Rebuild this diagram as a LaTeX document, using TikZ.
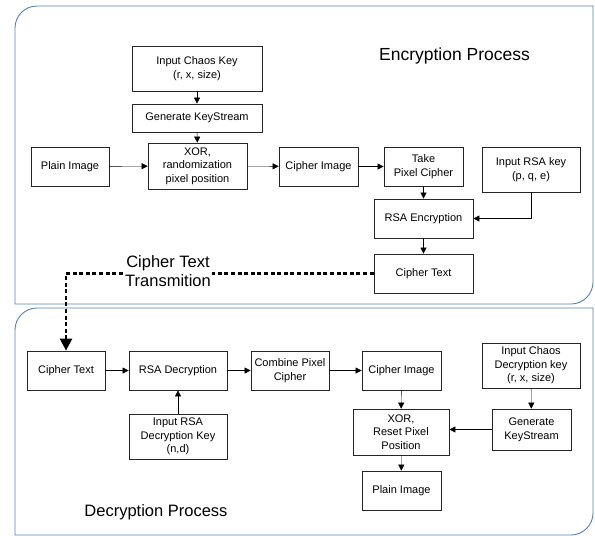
\documentclass[tikz,border=0pt]{standalone}
\usepackage{fontspec}
\setmainfont{Liberation Sans}
\usetikzlibrary{arrows.meta}
\definecolor{panelblue}{RGB}{84,130,183}
\begin{document}
\begin{tikzpicture}[x=1pt,y=-1pt,>={Triangle[length=6pt,width=6pt]},
	box/.style={draw=black!85,line width=0.7pt,minimum width=79pt,minimum height=39pt,inner sep=0pt,align=center,font=\fontsize{11}{13.6}\selectfont},
	panel/.style={draw=panelblue,line width=0.9pt},
	title/.style={font=\fontsize{16.5}{19}\selectfont,align=center}]
	\useasboundingbox (0,0) rectangle (595,536);
	% panels
	\draw[panel] (15,304)--(15,150)[rounded corners=22pt]--(15,6)--(300,6)[sharp corners]--(593,6)--(593,150)[rounded corners=22pt]--(593,304)--(300,304)[sharp corners]--cycle;
	\draw[panel] (15,535)--(15,420)[rounded corners=22pt]--(15,308)--(300,308)[sharp corners]--(593,308)--(593,420)[rounded corners=22pt]--(593,535)--(300,535)[sharp corners]--cycle;
	% encryption
	\node[box,minimum width=130pt,minimum height=45pt] (key1) at (197,68.5) {Input Chaos Key\\(r, x, size)};
	\node[box,minimum width=130pt,minimum height=28pt] (gen1) at (197,118) {Generate KeyStream};
	\node[box,minimum width=99pt,minimum height=46pt] (xor1) at (197.5,166) {XOR,\\randomization\\pixel position};
	\node[box,minimum width=78pt] (plain1) at (70,166.5) {Plain Image};
	\node[box] (cimg1) at (318.5,166.5) {Cipher Image};
	\node[box] (take) at (423.5,166.5) {Take\\Pixel Cipher};
	\node[box,minimum width=98pt,minimum height=45pt] (rsakey) at (531,169.5) {Input RSA key\\(p, q, e)};
	\node[box,minimum width=99pt] (rsaenc) at (423.5,218.5) {RSA Encryption};
	\node[box,minimum width=99pt] (ctext1) at (423.5,273.5) {Cipher Text};
	\node[title,font=\fontsize{17.5}{19}\selectfont] (enc) at (454.5,56) {Encryption Process};
	\draw[->] (key1)--(gen1);
	\draw[->] (gen1)--(xor1);
	\draw[->] (plain1)--(xor1);
	\draw[->] (xor1)--(cimg1);
	\draw[->] (cimg1)--(take);
	\draw[->] (take)--(rsaenc);
	\draw[->] (rsakey.south)|-(rsaenc.east);
	\draw[->] (rsaenc)--(ctext1);
	% decryption
	\node[box,minimum width=78pt] (ctext2) at (66,370.5) {Cipher Text};
	\node[box,minimum width=98pt] (rsadec) at (178,370.5) {RSA Decryption};
	\node[box,minimum width=78pt] (comb) at (290,370.5) {Combine Pixel\\Cipher};
	\node[box,minimum width=98pt,minimum height=45pt] (deckey) at (178,436.5) {Input RSA\\Decryption Key\\(n,d)};
	\node[box] (cimg2) at (401.5,370.5) {Cipher Image};
	\node[box,minimum width=96pt,minimum height=46pt] (xor2) at (401,432) {XOR,\\Reset Pixel\\Position};
	\node[box] (plain2) at (401.5,490.5) {Plain Image};
	\node[box,minimum width=98pt,minimum height=45pt] (key2) at (531,365.5) {Input Chaos\\Decryption key\\(r, x, size)};
	\node[box,minimum height=41pt] (gen2) at (531.5,429.5) {Generate\\KeyStream};
	\node[title] (dec) at (156,512) {Decryption Process};
	\draw[->] (ctext2)--(rsadec);
	\draw[->] (rsadec)--(comb);
	\draw[->] (deckey)--(rsadec);
	\draw[->] (comb)--(cimg2);
	\draw[->] (cimg2)--(xor2);
	\draw[->] (key2)--(gen2);
	\draw[->] (gen2.west)--(gen2.west-|xor2.east);
	\draw[->] (xor2)--(plain2);
	% transmission
	\draw[line width=2.4pt,dash pattern=on 4pt off 2.6pt,-{Triangle[length=12pt,width=12pt]}] (ctext1.west)-|(ctext2.north);
	\node[title,fill=white,inner sep=1pt] (trans) at (168,271) {Cipher Text\\Transmition};
\end{tikzpicture}
\end{document}
